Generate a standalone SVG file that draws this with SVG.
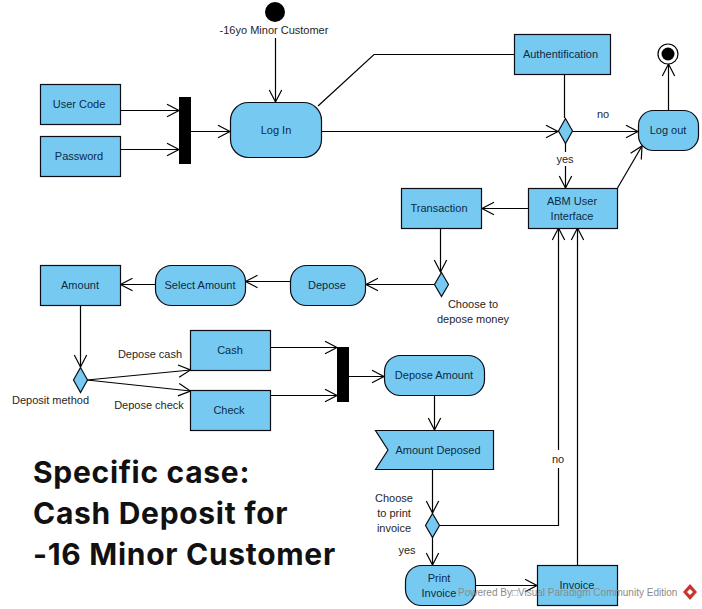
<svg xmlns="http://www.w3.org/2000/svg" width="702" height="609" viewBox="0 0 702 609">
<style>
.n{fill:#76caf2;stroke:#0c0c14;stroke-width:1.2}
.t{font-family:"Liberation Sans",Arial,sans-serif;font-size:11px;fill:#0d2a44;text-anchor:middle}
.l{font-family:"Liberation Sans",Arial,sans-serif;font-size:11px;fill:#262626;text-anchor:middle}
.c{fill:none;stroke:#000;stroke-width:1.2}
.b{font-family:Inter,"Open Sans",sans-serif;font-size:30px;font-weight:700;fill:#111;letter-spacing:.7px}
</style>
<defs>
<marker id="a" markerUnits="userSpaceOnUse" markerWidth="16" markerHeight="16" refX="13" refY="8" orient="auto"><path d="M1 1.800L13 8L1 14.200" fill="none" stroke="#000" stroke-width="1.2"/></marker>
</defs>
<rect width="702" height="609" fill="#fff"/>
<g id="connectors" class="c">
<path d="M275.500 38V102" marker-end="url(#a)"/>
<path d="M120.500 110.500H179" marker-end="url(#a)"/>
<path d="M120.500 149.500H179" marker-end="url(#a)"/>
<path d="M191 131.500H230" marker-end="url(#a)"/>
<path d="M322 131.500H558" marker-end="url(#a)"/>
<path d="M318 106L374 54.500H514"/>
<path d="M564.500 74V118"/>
<path d="M572 131.500H638" marker-end="url(#a)"/>
<path d="M565.500 143V152M565.500 166V188" marker-end="url(#a)"/>
<path d="M617.500 188L642 146" marker-end="url(#a)"/>
<path d="M668.500 110V64" marker-end="url(#a)"/>
<path d="M528 208.500H482" marker-end="url(#a)"/>
<path d="M440.500 228V272" marker-end="url(#a)"/>
<path d="M434 284.500H366" marker-end="url(#a)"/>
<path d="M290 281.500H245.500" marker-end="url(#a)"/>
<path d="M155 284.500H120.500" marker-end="url(#a)"/>
<path d="M80.500 305V367" marker-end="url(#a)"/>
<path d="M87 380L190.500 370" marker-end="url(#a)"/>
<path d="M87 380L190.500 391" marker-end="url(#a)"/>
<path d="M270.500 347.500H337" marker-end="url(#a)"/>
<path d="M270.500 395.500H337" marker-end="url(#a)"/>
<path d="M349 376.500H384" marker-end="url(#a)"/>
<path d="M434.500 395V430" marker-end="url(#a)"/>
<path d="M432.500 469V513" marker-end="url(#a)"/>
<path d="M439.500 525.500H558.500V468M558.500 450V228" marker-end="url(#a)"/>
<path d="M577.500 565V228" marker-end="url(#a)"/>
<path d="M432.500 537V565" marker-end="url(#a)"/>
<path d="M475.500 585.500H537" marker-end="url(#a)"/>
</g>
<g id="start"><circle cx="275" cy="12" r="10" fill="#000"/><text class="l" x="274" y="34">-16yo Minor Customer</text></g>
<g id="usercode"><rect class="n" x="40.500" y="84.500" width="80" height="40"/><text class="t" x="79" y="108">User Code</text></g>
<g id="password"><rect class="n" x="40.500" y="136.500" width="80" height="40"/><text class="t" x="79" y="160">Password</text></g>
<g id="fork1"><rect x="179" y="97" width="12" height="67" fill="#000"/></g>
<g id="login"><rect class="n" x="230.500" y="102.500" width="91" height="55" rx="18"/><text class="t" x="276" y="134">Log In</text></g>
<g id="auth"><rect class="n" x="514.500" y="34.500" width="96" height="40"/><text class="t" x="560.500" y="58">Authentification</text></g>
<g id="d1"><path class="n" d="M565.500 118.500L572.500 131L565.500 143.500L558.500 131Z"/><text class="l" x="603" y="118">no</text><text class="l" x="565" y="163">yes</text></g>
<g id="logout"><rect class="n" x="638.500" y="110.500" width="60" height="40" rx="15"/><text class="t" x="668" y="134">Log out</text></g>
<g id="end"><circle cx="668" cy="54" r="10" fill="#fff" stroke="#000" stroke-width="1.200"/><circle cx="668" cy="54" r="6.500" fill="#000"/></g>
<g id="abm"><rect class="n" x="528.500" y="188.500" width="89" height="40"/><text class="t" x="572" y="205">ABM User</text><text class="t" x="572" y="220">Interface</text></g>
<g id="transaction"><rect class="n" x="401.500" y="188.500" width="80" height="40"/><text class="t" x="439" y="212">Transaction</text></g>
<g id="d2"><path class="n" d="M441.500 272.500L448.500 284.500L441.500 296.500L434.500 284.500Z"/><text class="l" x="473" y="308">Choose to</text><text class="l" x="473" y="323">depose money</text></g>
<g id="depose"><rect class="n" x="290.500" y="265.500" width="75" height="40" rx="16"/><text class="t" x="327" y="289">Depose</text></g>
<g id="selectamount"><rect class="n" x="155.500" y="265.500" width="90" height="40" rx="16"/><text class="t" x="200" y="289">Select Amount</text></g>
<g id="amount"><rect class="n" x="40.500" y="265.500" width="80" height="40"/><text class="t" x="80" y="289">Amount</text></g>
<g id="d3"><path class="n" d="M80.500 367.500L87.500 380L80.500 392.500L73.500 380Z"/><text class="l" x="50.500" y="404">Deposit method</text><text class="l" x="150" y="358">Depose cash</text><text class="l" x="149" y="409">Depose check</text></g>
<g id="cash"><rect class="n" x="190.500" y="330.500" width="80" height="40"/><text class="t" x="230" y="354">Cash</text></g>
<g id="check"><rect class="n" x="190.500" y="390.500" width="80" height="40"/><text class="t" x="229" y="414">Check</text></g>
<g id="fork2"><rect x="337" y="347" width="12" height="55" fill="#000"/></g>
<g id="deposeamount"><rect class="n" x="384.500" y="355.500" width="100" height="40" rx="16"/><text class="t" x="434" y="379">Depose Amount</text></g>
<g id="amountdeposed"><path class="n" d="M375.500 430.500H493.500V469.500H375.500L388 450Z"/><text class="t" x="438" y="454">Amount Deposed</text></g>
<g id="d4"><path class="n" d="M432.500 513.500L439.500 525.500L432.500 537.500L425.500 525.500Z"/><text class="l" x="394" y="502">Choose</text><text class="l" x="394" y="517">to print</text><text class="l" x="394" y="532">invoice</text><text class="l" x="407" y="554">yes</text><text class="l" x="558" y="463">no</text></g>
<g id="printinvoice"><rect class="n" x="405.500" y="565.500" width="70" height="40" rx="16"/><text class="t" x="439" y="582">Print</text><text class="t" x="439" y="597">Invoice</text></g>
<g id="invoice"><rect class="n" x="537.500" y="565.500" width="80" height="40"/><text class="t" x="577" y="589">Invoice</text></g>
<g id="case"><text class="b" x="33" y="483">Specific case:</text><text class="b" x="33" y="524">Cash Deposit for</text><text class="b" x="33" y="565">-16 Minor Customer</text></g>
<g id="watermark"><text x="458" y="596" font-family="'Liberation Sans',Arial,sans-serif" font-size="10" fill="#8a8a8a">Powered By□Visual Paradigm Community Edition</text><path d="M690 584L697 592L690 600L683 592Z" fill="#c8352e"/><path d="M690 589L693 592L690 595L687 592Z" fill="#fff"/></g>
</svg>
